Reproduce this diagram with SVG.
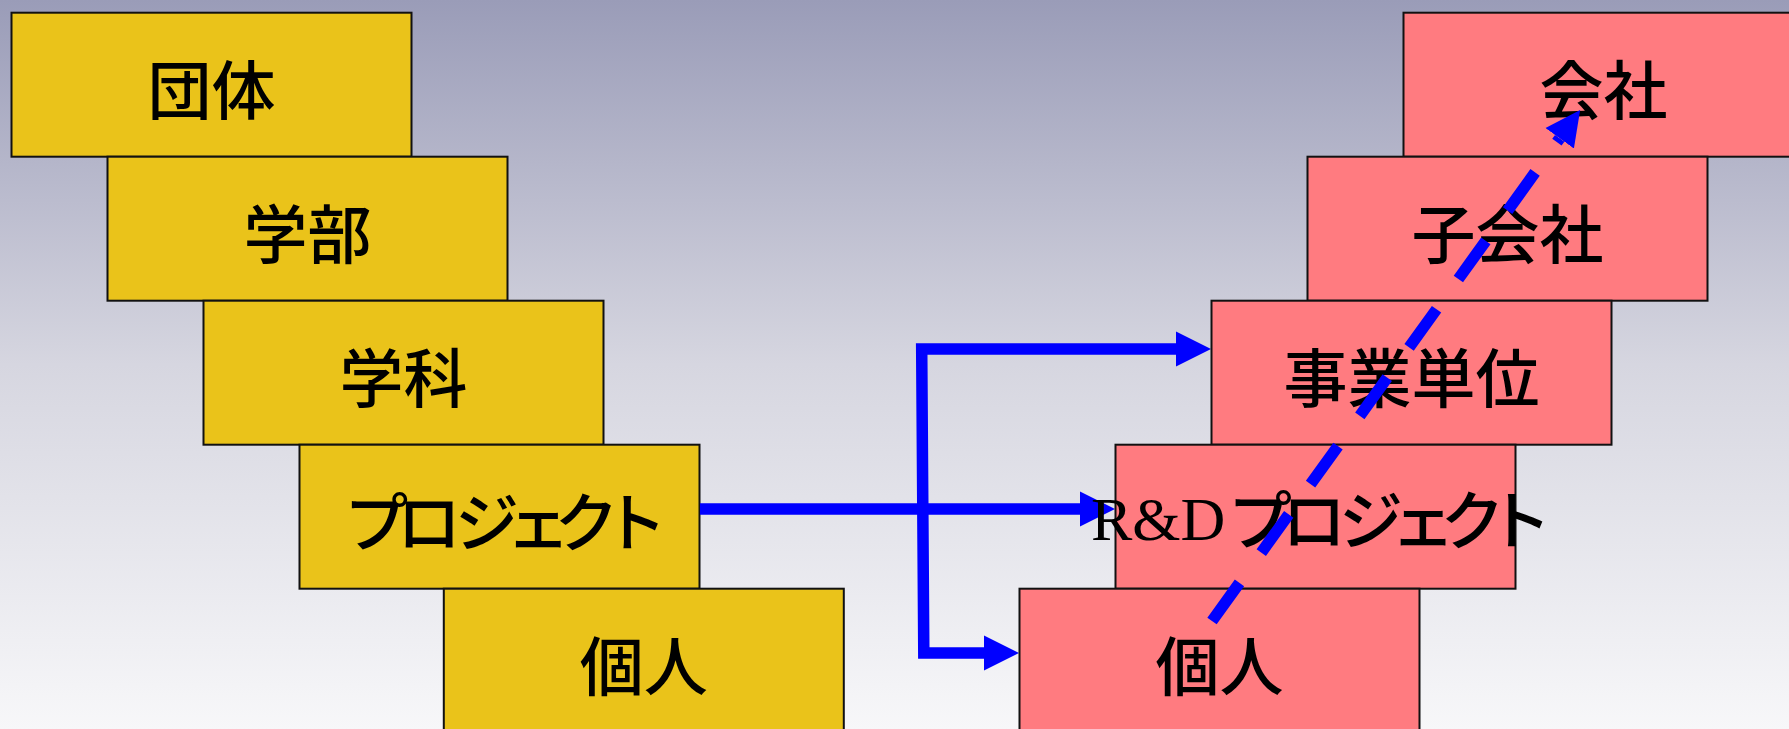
<svg xmlns="http://www.w3.org/2000/svg" width="1789" height="729" viewBox="0 0 1789 729">
<defs>
<linearGradient id="bg" x1="0" y1="0" x2="0" y2="1">
<stop offset="0" stop-color="#9A9CB8"/>
<stop offset="0.5" stop-color="#D6D6E0"/>
<stop offset="1" stop-color="#F7F7F9"/>
</linearGradient>
<marker id="ah" markerUnits="userSpaceOnUse" markerWidth="36" markerHeight="36" viewBox="0 -18 36 36" refX="0" refY="0" orient="auto-start-reverse">
<path d="M0,-17.5 L35,0 L0,17.5 Z" fill="#0000FF"/>
</marker>
<style>
.ybox{fill:#EAC31A;stroke:#111;stroke-width:2}
.pbox{fill:#FF7B80;stroke:#111;stroke-width:2}
.lbl{font-family:"Noto Sans CJK JP","Noto Sans CJK SC",sans-serif;font-size:64px;font-weight:500;fill:#000;text-anchor:middle}
.kana{font-family:"Noto Sans CJK JP","Noto Sans CJK SC",sans-serif;font-size:64px;font-weight:500;fill:#000;text-anchor:start}
.lat{font-family:"Liberation Serif","Times New Roman",serif;font-size:62px;fill:#000}
.conn{fill:none;stroke:#0000FF;stroke-width:11.5;stroke-linejoin:miter}
.dash{stroke-dasharray:47 37.3}
</style>
</defs>
<rect x="0" y="0" width="1789" height="729" fill="url(#bg)"/>
<g id="left-nodes">
<g id="n-dantai"><rect class="ybox" x="11.5" y="12.7" width="400" height="144"/><text class="lbl" x="211.5" y="114.2">団体</text></g>
<g id="n-gakubu"><rect class="ybox" x="107.5" y="156.7" width="400" height="144"/><text class="lbl" x="307.5" y="258.2">学部</text></g>
<g id="n-gakka"><rect class="ybox" x="203.5" y="300.7" width="400" height="144"/><text class="lbl" x="403.5" y="402.2">学科</text></g>
<g id="n-project"><rect class="ybox" x="299.5" y="444.7" width="400" height="144"/><text class="kana" x="344.3 396.9 455.1 506.2 554.6 602.9" y="546.2">プロジェクト</text></g>
<g id="n-kojin-l"><rect class="ybox" x="443.8" y="588.7" width="400" height="144"/><text class="lbl" x="643.8" y="690.2">個人</text></g>
</g>
<g id="connectors">
<path class="conn" d="M700,509 L1080,509" marker-end="url(#ah)"/>
<path class="conn" d="M1176,349 L921.7,349 L923.8,653 L984,653" marker-start="url(#ah)" marker-end="url(#ah)"/>
</g>
<g id="right-nodes">
<g id="n-kaisha"><rect class="pbox" x="1403.5" y="12.7" width="400" height="144"/><text class="lbl" x="1603.5" y="114.2">会社</text></g>
<g id="n-kogaisha"><rect class="pbox" x="1307.5" y="156.7" width="400" height="144"/><text class="lbl" x="1507.5" y="258.2">子会社</text></g>
<g id="n-jigyo"><rect class="pbox" x="1211.5" y="300.7" width="400" height="144"/><text class="lbl" x="1411.5" y="402.2">事業単位</text></g>
<g id="n-rd"><rect class="pbox" x="1115.5" y="444.7" width="400" height="144"/><text><tspan class="lat" x="1091" y="540">R&amp;D</tspan><tspan class="kana" x="1228 1282 1339 1391 1440.6 1487.4" y="543.5">プロジェクト</tspan></text></g>
<g id="n-kojin-r"><rect class="pbox" x="1019.5" y="588.7" width="400" height="144"/><text class="lbl" x="1219.5" y="690.2">個人</text></g>
</g>
<g id="connectors-overlay">
<path class="conn dash" d="M1212,621 L1559.7,138.3" marker-end="url(#ah)"/>
</g>
</svg>
